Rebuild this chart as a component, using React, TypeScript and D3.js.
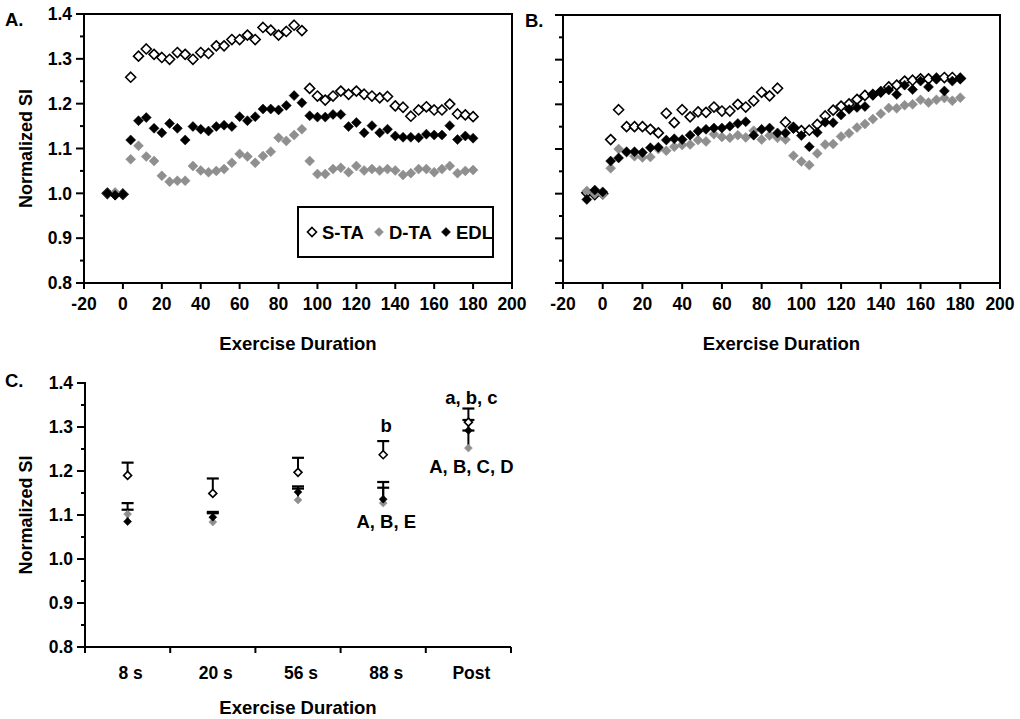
import React from 'react';
import * as d3 from 'd3';

// ---------- DATA ----------
const timePoints = [-8, -4, 0, 4, 8, 12, 16, 20, 24, 28, 32, 36, 40, 44, 48, 52, 56, 60, 64, 68, 72, 76, 80, 84, 88, 92,
  96, 100, 104, 108, 112, 116, 120, 124, 128, 132, 136, 140, 144, 148, 152, 156, 160, 164, 168, 172, 176, 180];

const staA = [1.000, 0.998, 0.998, 1.259, 1.306, 1.322, 1.310, 1.303, 1.299, 1.314, 1.310, 1.299, 1.314, 1.312, 1.329, 1.329, 1.343, 1.343, 1.353, 1.343, 1.370, 1.364, 1.353, 1.361, 1.375, 1.363,
  1.234, 1.217, 1.208, 1.217, 1.228, 1.221, 1.228, 1.221, 1.217, 1.213, 1.216, 1.195, 1.192, 1.172, 1.186, 1.193, 1.186, 1.186, 1.199, 1.177, 1.175, 1.171];
const dtaA = [1.000, 1.002, 0.998, 1.076, 1.106, 1.082, 1.072, 1.039, 1.026, 1.028, 1.028, 1.061, 1.051, 1.047, 1.050, 1.054, 1.068, 1.088, 1.082, 1.068, 1.083, 1.093, 1.124, 1.117, 1.130, 1.143,
  1.072, 1.043, 1.043, 1.054, 1.057, 1.047, 1.061, 1.051, 1.054, 1.051, 1.054, 1.051, 1.041, 1.045, 1.054, 1.054, 1.047, 1.054, 1.061, 1.045, 1.050, 1.052];
const edlA = [1.000, 0.996, 0.998, 1.119, 1.162, 1.169, 1.145, 1.135, 1.156, 1.145, 1.119, 1.149, 1.143, 1.139, 1.149, 1.152, 1.149, 1.171, 1.162, 1.171, 1.188, 1.188, 1.186, 1.196, 1.218, 1.202,
  1.173, 1.170, 1.170, 1.176, 1.176, 1.149, 1.158, 1.135, 1.151, 1.135, 1.143, 1.128, 1.125, 1.125, 1.124, 1.132, 1.130, 1.130, 1.151, 1.120, 1.128, 1.123];

const staB = [1.002, 0.998, 1.000, 1.121, 1.188, 1.150, 1.150, 1.150, 1.144, 1.136, 1.180, 1.159, 1.188, 1.172, 1.183, 1.182, 1.194, 1.185, 1.185, 1.200, 1.194, 1.208, 1.227, 1.219, 1.236, 1.160,
  1.148, 1.141, 1.142, 1.155, 1.174, 1.187, 1.196, 1.201, 1.211, 1.220, 1.222, 1.228, 1.239, 1.243, 1.252, 1.254, 1.257, 1.257, 1.258, 1.260, 1.260, 1.258];
const dtaB = [1.006, 1.000, 0.998, 1.057, 1.100, 1.092, 1.084, 1.081, 1.082, 1.100, 1.096, 1.105, 1.109, 1.110, 1.120, 1.117, 1.133, 1.127, 1.125, 1.131, 1.126, 1.141, 1.121, 1.130, 1.125, 1.121,
  1.085, 1.072, 1.064, 1.090, 1.110, 1.111, 1.128, 1.135, 1.148, 1.156, 1.167, 1.179, 1.192, 1.191, 1.198, 1.200, 1.210, 1.204, 1.210, 1.214, 1.208, 1.215];
const edlB = [0.987, 1.008, 1.004, 1.073, 1.080, 1.094, 1.094, 1.092, 1.103, 1.104, 1.120, 1.123, 1.121, 1.131, 1.140, 1.144, 1.147, 1.147, 1.151, 1.157, 1.161, 1.131, 1.144, 1.147, 1.136, 1.136,
  1.146, 1.130, 1.105, 1.137, 1.160, 1.159, 1.176, 1.189, 1.193, 1.195, 1.221, 1.228, 1.232, 1.222, 1.243, 1.233, 1.252, 1.239, 1.257, 1.230, 1.252, 1.258];

const categoriesC = ['8 s', '20 s', '56 s', '88 s', 'Post'];
const staC = [1.190, 1.149, 1.197, 1.237, 1.311];
const staErrC = [0.029, 0.034, 0.033, 0.031, 0.031];
const dtaC = [1.102, 1.084, 1.134, 1.127, 1.252];
const dtaErrC = [0.025, 0.020, 0.026, 0.048, 0.040];
const edlC = [1.085, 1.095, 1.152, 1.136, 1.292];
const edlErrC = [0.027, 0.012, 0.013, 0.026, 0.024];

const annotationsC = [
  { cat: '88 s', value: 1.3045, text: 'b' },
  { cat: 'Post', value: 1.3675, text: 'a, b, c' },
  { cat: '88 s', value: 1.085, text: 'A, B, E' },
  { cat: 'Post', value: 1.21, text: 'A, B, C, D' },
];

const yTickValues = [0.8, 0.9, 1.0, 1.1, 1.2, 1.3, 1.4];
const yTickLabels = ['0.8', '0.9', '1.0', '1.1', '1.2', '1.3', '1.4'];
const xTickValues = [-20, 0, 20, 40, 60, 80, 100, 120, 140, 160, 180, 200];
const seriesNames = ['S-TA', 'D-TA', 'EDL'];

// ---------- STYLE ----------
const FONT = '"Liberation Sans", Arial, Helvetica, sans-serif';
const GRAY = '#8f8f8f';
const TICK_FS = 17.5;
const TITLE_FS = 18.5;
const styles = [
  { fill: '#ffffff', stroke: '#000', sw: 1.6 },
  { fill: GRAY, stroke: GRAY, sw: 0.5 },
  { fill: '#000', stroke: '#000', sw: 0.5 },
];

function diamond(cx: number, cy: number, r: number) {
  return `M${cx},${cy - r}L${cx + r},${cy}L${cx},${cy + r}L${cx - r},${cy}Z`;
}

function YAxis({ y, x, labels }: { y: d3.ScaleLinear<number, number>; x: number; labels: boolean }) {
  const minor = d3.range(0, 13).map((i) => 0.8 + i * 0.05);
  const [r0, r1] = y.range();
  return (
    <g>
      <line x1={x} x2={x} y1={r0 + 1} y2={r1 - 1} stroke="#000" strokeWidth={2} />
      {minor.map((v, i) => (
        <line key={'m' + i} x1={x - (i % 2 === 0 ? 8 : 4)} x2={x} y1={y(v)} y2={y(v)} stroke="#000" strokeWidth={2} />
      ))}
      {labels &&
        yTickValues.map((v, i) => (
          <text key={'l' + i} x={x - 12} y={y(v)} dy="0.36em" textAnchor="end" fontFamily={FONT} fontWeight="bold" fontSize={TICK_FS}>
            {yTickLabels[i]}
          </text>
        ))}
    </g>
  );
}

function ScatterPanel({ left, right, top, bottom, sta, dta, edl, labels, title, titleX, legend }: any) {
  const x = d3.scaleLinear().domain([-20, 200]).range([left, right]);
  const y = d3.scaleLinear().domain([0.8, 1.4]).range([bottom, top]);
  const series = [sta, dta, edl];
  const r = 5;
  return (
    <g>
      <text x={titleX} y={top + 12} fontFamily={FONT} fontWeight="bold" fontSize={TITLE_FS}>{title}</text>
      <rect x={left} y={top} width={right - left} height={bottom - top} fill="none" stroke="#000" strokeWidth={2} />
      <YAxis y={y} x={left} labels={labels} />
      {xTickValues.map((v) => (
        <g key={v}>
          <line x1={x(v)} x2={x(v)} y1={bottom} y2={bottom + 6} stroke="#000" strokeWidth={2} />
          <text x={x(v)} y={bottom + 21} dy="0.36em" textAnchor="middle" fontFamily={FONT} fontWeight="bold" fontSize={TICK_FS}>{v}</text>
        </g>
      ))}
      <text x={(left + right) / 2} y={bottom + 60} dy="0.36em" textAnchor="middle" fontFamily={FONT} fontWeight="bold" fontSize={TITLE_FS}>Exercise Duration</text>
      {labels && (
        <text transform={`translate(26,${(top + bottom) / 2}) rotate(-90)`} dy="0.36em" textAnchor="middle" fontFamily={FONT} fontWeight="bold" fontSize={18}>Normalized SI</text>
      )}
      {series.map((vals: number[], si: number) => (
        <g key={si}>
          {vals.map((v, i) => (
            <path key={i} d={diamond(x(timePoints[i]), y(v), r)} fill={styles[si].fill} stroke={styles[si].stroke} strokeWidth={styles[si].sw} />
          ))}
        </g>
      ))}
      {legend && (
        <g>
          <rect x={298} y={207} width={195} height={50} fill="#fff" stroke="#000" strokeWidth={2} />
          {seriesNames.map((n, i) => {
            const mx = 312 + i * 67;
            return (
              <g key={n}>
                <path d={diamond(mx, 232, 4.5)} fill={styles[i].fill} stroke={styles[i].stroke} strokeWidth={styles[i].sw} />
                <text x={mx + 10} y={232} dy="0.36em" fontFamily={FONT} fontWeight="bold" fontSize={TITLE_FS}>{n}</text>
              </g>
            );
          })}
        </g>
      )}
    </g>
  );
}

function BarPanel() {
  const left = 85, right = 511, top = 383, bottom = 647;
  const x = d3.scaleBand().domain(categoriesC).range([left, right]);
  const y = d3.scaleLinear().domain([0.8, 1.4]).range([bottom, top]);
  const series = [
    { v: staC, e: staErrC },
    { v: dtaC, e: dtaErrC },
    { v: edlC, e: edlErrC },
  ];
  const bounds = [...categoriesC.map((c) => x(c) as number), right];
  return (
    <g>
      <text x={5} y={top + 4} fontFamily={FONT} fontWeight="bold" fontSize={TITLE_FS}>C.</text>
      <YAxis y={y} x={left} labels={true} />
      <line x1={left - 1} x2={right} y1={bottom} y2={bottom} stroke="#000" strokeWidth={2} />
      {bounds.map((b, i) => (
        <line key={i} x1={b} x2={b} y1={bottom} y2={bottom + 6} stroke="#000" strokeWidth={2} />
      ))}
      {categoriesC.map((c) => (
        <text key={c} x={(x(c) as number) + x.bandwidth() / 2 + 3} y={bottom + 26} dy="0.36em" textAnchor="middle" fontFamily={FONT} fontWeight="bold" fontSize={TICK_FS}>{c}</text>
      ))}
      <text x={(left + right) / 2} y={bottom + 60} dy="0.36em" textAnchor="middle" fontFamily={FONT} fontWeight="bold" fontSize={TITLE_FS}>Exercise Duration</text>
      <text transform={`translate(26,${(top + bottom) / 2}) rotate(-90)`} dy="0.36em" textAnchor="middle" fontFamily={FONT} fontWeight="bold" fontSize={18}>Normalized SI</text>
      {series.map((s, si) => (
        <g key={si}>
          {s.v.map((v, i) => {
            const cx = (x(categoriesC[i]) as number) + x.bandwidth() / 2;
            const top = y(v + s.e[i]);
            return (
              <g key={i}>
                <line x1={cx} x2={cx} y1={y(v)} y2={top} stroke="#000" strokeWidth={2} />
                <line x1={cx - 6} x2={cx + 6} y1={top} y2={top} stroke="#000" strokeWidth={2.2} />
              </g>
            );
          })}
        </g>
      ))}
      {series.map((s, si) => (
        <g key={'m' + si}>
          {s.v.map((v, i) => {
            const cx = (x(categoriesC[i]) as number) + x.bandwidth() / 2;
            return <path key={i} d={diamond(cx, y(v), 4)} fill={styles[si].fill} stroke={styles[si].stroke} strokeWidth={styles[si].sw} />;
          })}
        </g>
      ))}
      {annotationsC.map((a, i) => (
        <text key={i} x={(x(a.cat) as number) + x.bandwidth() / 2 + 3} y={y(a.value)} dy="0.36em" textAnchor="middle" fontFamily={FONT} fontWeight="bold" fontSize={TITLE_FS}>{a.text}</text>
      ))}
    </g>
  );
}

export default function App() {
  return (
    <svg width={1020} height={719} style={{ position: 'absolute', left: 0, top: 0, background: '#fff' }}>
      <rect width={1020} height={719} fill="#fff" />
      <ScatterPanel left={84} right={512} top={14} bottom={283} sta={staA} dta={dtaA} edl={edlA} labels={true} title="A." titleX={5} legend={true} />
      <ScatterPanel left={563} right={1000} top={15} bottom={283} sta={staB} dta={dtaB} edl={edlB} labels={false} title="B." titleX={525} legend={false} />
      <BarPanel />
    </svg>
  );
}
